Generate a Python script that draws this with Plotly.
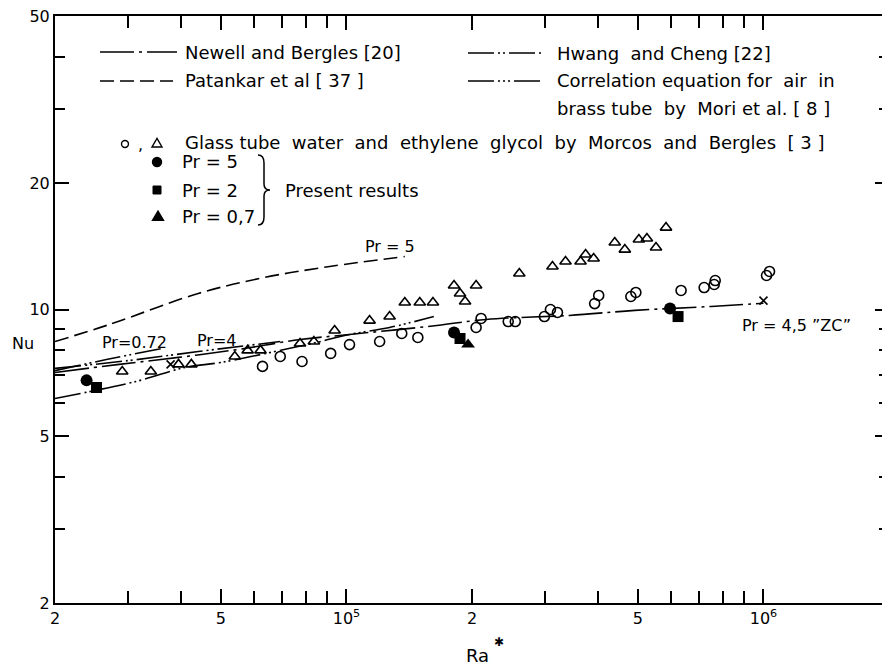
import plotly.graph_objects as go

# ---------------- data ----------------
# Morcos and Bergles, glass tube (open triangles)
tri_ra = [28990, 33950, 39560, 42460, 53980, 57940, 62210, 77370, 83520, 93670,
          113600, 126900, 138000, 149900, 161200, 181100, 187200, 192500, 204600,
          259700, 311900, 335200, 364200, 374500, 391500, 439900, 465100, 502600,
          525400, 552400, 583800]
tri_nu = [7.12, 7.12, 7.40, 7.40, 7.73, 7.99, 7.99, 8.30, 8.39, 8.91,
          9.41, 9.62, 10.39, 10.39, 10.39, 11.41, 10.92, 10.45, 11.41,
          12.18, 12.66, 13.01, 13.01, 13.52, 13.23, 14.44, 13.89, 14.68,
          14.76, 14.05, 15.67]
# Morcos and Bergles, glass tube (open circles)
circ_ra = [62900, 69370, 78230, 91650, 101700, 120100, 135700, 148300, 204600,
           210300, 244300, 254000, 298300, 308400, 320600, 393700, 402600, 480800,
           494300, 634500, 720700, 761800, 766100, 1017000, 1034000]
circ_nu = [7.32, 7.73, 7.52, 7.86, 8.25, 8.39, 8.77, 8.58, 9.06,
           9.52, 9.36, 9.36, 9.62, 10.0, 9.84, 10.33, 10.80, 10.74,
           10.98, 11.10, 11.28, 11.47, 11.72, 12.05, 12.32]
# present results
pr5_ra = [23810, 181100, 596900]
pr5_nu = [6.78, 8.81, 10.05]
pr2_ra = [25150, 187200, 624000]
pr2_nu = [6.52, 8.53, 9.62]
pr07_ra = [195700]
pr07_nu = [8.25]
# cross marks
cross_ra = [37860, 1000000]
cross_nu = [7.40, 10.50]

# curves
patankar_ra = [20000, 27000, 44110, 63580, 91150, 138000]
patankar_nu = [8.39, 9.21, 10.92, 11.92, 12.66, 13.37]
newell_ra = [20000, 28510, 39560, 54870, 77370, 101700, 164800, 216200, 342700,
             491500, 749200, 1000000]
newell_nu = [7.08, 7.40, 7.69, 8.03, 8.48, 8.72, 9.16, 9.47, 9.68, 9.95, 10.17, 10.35]
mori_ra = [20000, 31290, 41090, 50000, 70900, 84900, 101700, 126900, 162000]
mori_nu = [6.14, 6.74, 7.28, 7.48, 8.03, 8.35, 8.72, 9.06, 9.62]
hc072_ra = [20000, 26560, 36050]
hc072_nu = [7.15, 7.60, 8.07]
hc4_ra = [20000, 30110, 44110, 69370]
hc4_nu = [7.24, 7.56, 7.94, 8.39]

x_tickvals = [2e4, 5e4, 1e5, 2e5, 5e5, 1e6, 2e6]
x_ticktext = ["2", "5", "10<sup>5</sup>", "2", "5", "10<sup>6</sup>", "2"]
x_minor = [3e4, 4e4, 6e4, 7e4, 8e4, 9e4, 3e5, 4e5, 6e5, 7e5, 8e5, 9e5]
y_tickvals = [2, 5, 10, 20, 50]
y_ticktext = ["2", "5", "10", "20", "50"]
y_minor = [3, 4, 6, 7, 8, 9, 30, 40]

# ---------------- styles ----------------
W, H = 890, 665
OFF = 8                     # page body margin
ML, MR, MT, MB = 47, 9, 8, 70
PW, PH = W - ML - MR, H - MT - MB
X0S, Y1S = OFF + ML, OFF + H - MB   # screen pixel of plot left / bottom
FONT = "DejaVu Sans"

DASH_NEWELL = "34px,5px,3px,5px"
DASH_PATANKAR = "14px,6px"
DASH_HWANG = "26px,4px,2px,3px,2px,4px"
DASH_MORI = "26px,4px,2px,3px,2px,3px,2px,4px"


def px(x):
    return (x - X0S) / PW


def py(y):
    return (Y1S - y) / PH


fig = go.Figure()

line_kw = dict(color="black", width=1.6)
fig.add_trace(go.Scatter(x=patankar_ra, y=patankar_nu, mode="lines",
                         line=dict(line_kw, dash=DASH_PATANKAR, shape="spline")))
fig.add_trace(go.Scatter(x=newell_ra, y=newell_nu, mode="lines",
                         line=dict(line_kw, dash=DASH_NEWELL, shape="spline")))
fig.add_trace(go.Scatter(x=mori_ra, y=mori_nu, mode="lines",
                         line=dict(line_kw, dash=DASH_MORI, shape="spline")))
fig.add_trace(go.Scatter(x=hc072_ra, y=hc072_nu, mode="lines",
                         line=dict(line_kw, dash=DASH_HWANG, shape="spline")))
fig.add_trace(go.Scatter(x=hc4_ra, y=hc4_nu, mode="lines",
                         line=dict(line_kw, dash=DASH_HWANG, shape="spline")))

fig.add_trace(go.Scatter(x=tri_ra, y=tri_nu, mode="markers",
                         marker=dict(symbol="triangle-up-open", size=10, color="black",
                                     line=dict(width=1.6, color="black"))))
fig.add_trace(go.Scatter(x=circ_ra, y=circ_nu, mode="markers",
                         marker=dict(symbol="circle-open", size=10, color="black",
                                     line=dict(width=1.6, color="black"))))
fig.add_trace(go.Scatter(x=pr5_ra, y=pr5_nu, mode="markers",
                         marker=dict(symbol="circle", size=12, color="black")))
fig.add_trace(go.Scatter(x=pr2_ra, y=pr2_nu, mode="markers",
                         marker=dict(symbol="square", size=11, color="black")))
fig.add_trace(go.Scatter(x=pr07_ra, y=pr07_nu, mode="markers",
                         marker=dict(symbol="triangle-up", size=12, color="black")))
fig.add_trace(go.Scatter(x=cross_ra, y=cross_nu, mode="markers",
                         marker=dict(symbol="x-thin", size=8, color="black",
                                     line=dict(width=1.6, color="black"))))

# ---------------- legend drawn as decorations ----------------
shapes = []
for (x0, x1, y, dash) in [(100, 177, 52, DASH_NEWELL), (100, 173, 81, DASH_PATANKAR),
                          (468, 543, 53, DASH_HWANG), (468, 543, 81, DASH_MORI)]:
    shapes.append(dict(type="line", xref="paper", yref="paper",
                       x0=px(x0), x1=px(x1), y0=py(y), y1=py(y),
                       line=dict(color="black", width=1.5, dash=dash)))


def circle(cx, cy, r, filled):
    shapes.append(dict(type="circle", xref="paper", yref="paper",
                       x0=px(cx - r), x1=px(cx + r), y0=py(cy + r), y1=py(cy - r),
                       line=dict(color="black", width=1.4),
                       fillcolor="black" if filled else "rgba(0,0,0,0)"))


def triangle(cx, cy, s, filled):
    p = (f"M {px(cx - s)},{py(cy + s * 0.8)} L {px(cx + s)},{py(cy + s * 0.8)} "
         f"L {px(cx)},{py(cy - s * 0.9)} Z")
    shapes.append(dict(type="path", xref="paper", yref="paper", path=p,
                       line=dict(color="black", width=1.4),
                       fillcolor="black" if filled else "rgba(0,0,0,0)"))


circle(125, 144, 3.5, False)
triangle(157, 143, 5, False)
circle(157, 162, 4.5, True)
shapes.append(dict(type="rect", xref="paper", yref="paper",
                   x0=px(153), x1=px(161), y0=py(194), y1=py(186),
                   line=dict(color="black", width=1), fillcolor="black"))
triangle(158, 216, 5.5, True)

# brace
bx, btop, bmid, bbot = 258, 155, 190, 225
path = (f"M {px(bx)},{py(btop)} Q {px(bx+6)},{py(btop)} {px(bx+6)},{py(btop+8)} "
        f"L {px(bx+6)},{py(bmid-6)} Q {px(bx+6)},{py(bmid)} {px(bx+12)},{py(bmid)} "
        f"Q {px(bx+6)},{py(bmid)} {px(bx+6)},{py(bmid+6)} "
        f"L {px(bx+6)},{py(bbot-8)} Q {px(bx+6)},{py(bbot)} {px(bx)},{py(bbot)}")
shapes.append(dict(type="path", xref="paper", yref="paper", path=path,
                   line=dict(color="black", width=1.5)))

ann = []


def text(x, y, s, size=18, xanchor="left"):
    ann.append(dict(x=px(x), y=py(y), xref="paper", yref="paper", text=s,
                    showarrow=False, xanchor=xanchor, yanchor="middle",
                    font=dict(family=FONT, size=size, color="black")))


text(183, 52, "Newell and Bergles [20]")
text(183, 81, "Patankar et al [ 37 ]")
text(555, 53, "Hwang  and Cheng [22]")
text(555, 81, "Correlation equation for  air  in")
text(555, 108, "brass tube  by  Mori et al. [ 8 ]")
text(136, 145, ",", size=16)
text(183, 143, "Glass tube  water  and  ethylene  glycol  by  Morcos  and  Bergles  [ 3 ]")
text(180, 162, "Pr = 5")
text(180, 190, "Pr = 2")
text(180, 216, "Pr = 0,7")
text(283, 190, "Present results")
# in-plot labels
text(363, 247, "Pr = 5", size=16)
text(100, 342, "Pr=0.72", size=16)
text(195, 340, "Pr=4", size=16)
text(740, 325, "Pr = 4,5 \u201dZC\u201d", size=16)
text(23, 343, "Nu", size=16, xanchor="center")
text(478, 655, "Ra", size=18, xanchor="center")
text(499, 642, "\u2731", size=12, xanchor="center")

axis_common = dict(type="log", showgrid=False, zeroline=False, showline=True,
                   linecolor="black", linewidth=2, mirror="ticks", ticks="inside",
                   tickcolor="black", tickwidth=1.5, tickmode="array",
                   ticklabeloverflow="allow",
                   tickfont=dict(family=FONT, size=16, color="black"))

fig.update_layout(
    width=W, height=H, margin=dict(l=ML, r=MR, t=MT, b=MB, autoexpand=False),
    paper_bgcolor="white", plot_bgcolor="white", showlegend=False,
    shapes=shapes, annotations=ann,
    xaxis=dict(axis_common, range=[4.30103, 6.30103], tickvals=x_tickvals,
               ticktext=x_ticktext, ticklen=14,
               minor=dict(tickmode="array", tickvals=x_minor, ticks="inside",
                          ticklen=12, tickwidth=1.5, tickcolor="black")),
    yaxis=dict(axis_common, range=[0.30103, 1.69897], tickvals=y_tickvals,
               ticktext=y_ticktext, ticklen=14,
               minor=dict(tickmode="array", tickvals=y_minor, ticks="inside",
                          ticklen=10, tickwidth=1.5, tickcolor="black")),
)

fig.write_html("out.html")
